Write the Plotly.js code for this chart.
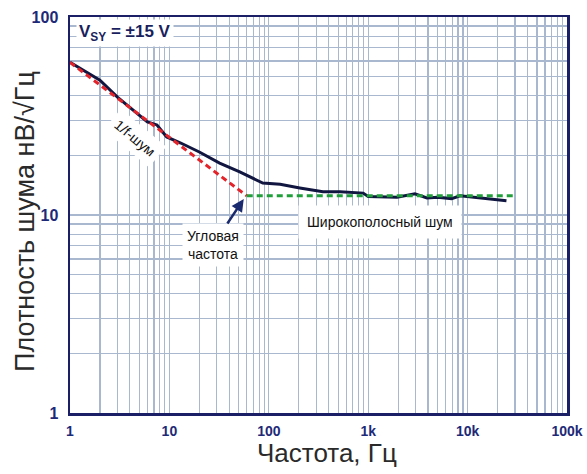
<!DOCTYPE html>
<html>
<head>
<meta charset="utf-8">
<script src="https://cdn.plot.ly/plotly-3.0.1.min.js"></script>
<style>html,body{margin:0;padding:0;background:#fff;}#chart{width:587px;height:474px;}</style>
</head>
<body>
<div id="chart"></div>
<script>
// Measured noise density curve
const freq = [1, 2, 3, 4.3, 6, 7.5, 9.4, 13, 20, 32, 51, 87, 130, 205, 350, 520, 890, 1000, 1950, 2950, 3900, 5000, 6900, 8400, 13300, 24600];
const noise = [59, 48, 39.4, 33.9, 29.5, 28.5, 24.8, 23.1, 20.8, 18.3, 16.5, 14.5, 14.3, 13.7, 13.1, 13.1, 12.9, 12.4, 12.3, 12.8, 12.2, 12.3, 12.1, 12.5, 12.2, 11.8];
// 1/f asymptote
const flickerFreq = [1, 60];
const flickerNoise = [59, 12.5];
// Broadband asymptote
const whiteFreq = [60, 30000];
const whiteNoise = [12.5, 12.5];
// Ticks
const xTickVals = [1, 10, 100, 1000, 10000, 100000];
const xTickText = ['1', '10', '100', '1k', '10k', '100k'];
const yTickVals = [1, 10, 100];
const yTickText = ['1', '10', '100'];
const minorDigits = [2, 3, 4, 5, 6, 7, 8, 9];
const xTitle = 'Частота, Гц';
const yTitle = 'Плотность шума нВ/√Гц';

const xMinor = [];
for (let d = 0; d < 5; d++) minorDigits.forEach(m => xMinor.push(m * Math.pow(10, d)));
const yMinor = [];
for (let d = 0; d < 2; d++) minorDigits.forEach(m => yMinor.push(m * Math.pow(10, d)));

const navy = '#1b1f66';
const gridCol = '#a9b8cf';
const fam = 'Liberation Sans, Arial, sans-serif';

const traces = [
  {x: freq, y: noise, type: 'scatter', mode: 'lines', line: {color: '#10163f', width: 3}, hoverinfo: 'skip'},
  {x: flickerFreq, y: flickerNoise, type: 'scatter', mode: 'lines', line: {color: '#e3242b', width: 3, dash: '6px,4px'}, hoverinfo: 'skip'},
  {x: whiteFreq, y: whiteNoise, type: 'scatter', mode: 'lines', line: {color: '#1f9e3a', width: 3, dash: '6px,4px'}, hoverinfo: 'skip'}
];

const layout = {
  width: 587, height: 474,
  margin: {l: 70, r: 20, t: 17, b: 61},
  paper_bgcolor: '#fff', plot_bgcolor: '#fff',
  showlegend: false,
  xaxis: {
    type: 'log', range: [0, 5], tickmode: 'array', tickvals: xTickVals, ticktext: xTickText,
    showgrid: true, gridcolor: gridCol, gridwidth: 1.2, zeroline: false,
    minor: {tickmode: 'array', tickvals: xMinor, showgrid: true, gridcolor: gridCol, gridwidth: 1.2, ticks: ''},
    showline: true, linecolor: navy, linewidth: 2.5, mirror: true, ticks: '',
    tickfont: {family: fam, size: 14, color: '#1e2a78', weight: 'bold'}, ticklabelstandoff: 4, automargin: false
  },
  yaxis: {
    type: 'log', range: [0, 2], tickmode: 'array', tickvals: yTickVals, ticktext: yTickText,
    showgrid: true, gridcolor: gridCol, gridwidth: 1.2, zeroline: false,
    minor: {tickmode: 'array', tickvals: yMinor, showgrid: true, gridcolor: gridCol, gridwidth: 1.2, ticks: ''},
    showline: true, linecolor: navy, linewidth: 2.5, mirror: true, ticks: '',
    tickfont: {family: fam, size: 16, color: '#1e2a78', weight: 'bold'}, ticklabelstandoff: 6, automargin: false
  },
  annotations: [
    {xref: 'paper', yref: 'paper', x: 0.517, y: -0.102, xanchor: 'center', yanchor: 'middle',
     text: xTitle, showarrow: false, font: {family: fam, size: 26, color: '#2a2a2a'}},
    {xref: 'paper', yref: 'paper', x: -0.092, y: 0.483, xanchor: 'center', yanchor: 'middle', textangle: -90,
     text: yTitle, showarrow: false, font: {family: fam, size: 27, color: '#2a2a2a'}},
    {xref: 'paper', yref: 'paper', x: 0.012, y: 0.995, xanchor: 'left', yanchor: 'top',
     text: 'V<sub>SY</sub> = ±15 V', showarrow: false, bgcolor: '#fff', borderpad: 2,
     font: {family: fam, size: 17, color: '#1a1f5e', weight: 'bold'}},
    {x: Math.log10(4.5), y: Math.log10(24.5), text: '1/f-шум', showarrow: false, textangle: 40,
     bgcolor: '#fff', borderpad: 5, font: {family: fam, size: 14, color: '#111'}},
    {x: Math.log10(56), y: Math.log10(12.05), axref: 'x', ayref: 'y', ax: Math.log10(27.5), ay: Math.log10(7.05),
     text: 'Угловая<br>частота', showarrow: true, arrowhead: 2, arrowsize: 1, arrowwidth: 2.5, arrowcolor: '#1a2a6e',
     bgcolor: '#fff', borderpad: 4, font: {family: fam, size: 14, color: '#111'}},
    {x: Math.log10(1315), y: Math.log10(9.2), text: 'Широкополосный шум', showarrow: false,
     bgcolor: '#fff', borderpad: 8, font: {family: fam, size: 14, color: '#111'}}
  ]
};

Plotly.newPlot('chart', traces, layout, {staticPlot: true, displayModeBar: false});
</script>
</body>
</html>
